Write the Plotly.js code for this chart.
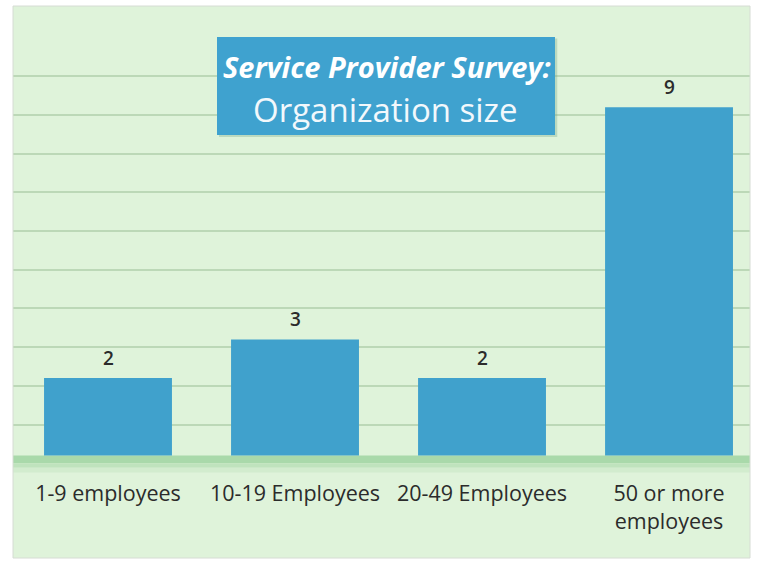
<!DOCTYPE html>
<html>
<head>
<meta charset="utf-8">
<script src="https://cdn.plot.ly/plotly-3.0.1.min.js"></script>
<style>html,body{margin:0;padding:0;background:#fff;}#chart{width:757px;height:563px;}</style>
</head>
<body>
<div id="chart"></div>
<script>
// Data
var categories = ["1-9 employees", "10-19 Employees", "20-49 Employees", "50 or more<br>employees"];
var counts = [2, 3, 2, 9];
var titleLine1 = "Service Provider Survey:";
var titleLine2 = "Organization size";

var FONT = "Open Sans, Lato, sans-serif";
var barColor = "#40a1cc";

// grid line values (offset like the reference)
var gridVals = [];
for (var g = 0; g < 10; g++) gridVals.push(0.8 + g);

var annotations = [];
for (var i = 0; i < categories.length; i++) {
  annotations.push({
    x: categories[i], y: counts[i], xref: "x", yref: "y",
    text: String(counts[i]), showarrow: false,
    yanchor: "bottom", yshift: 5,
    font: {family: FONT, size: 19, color: "#2b2b2b", weight: 600}
  });
}
annotations.push({
  xref: "paper", yref: "paper", x: 0.507, y: 0.8895,
  text: "<b><i>" + titleLine1 + "</i></b>", showarrow: false,
  xanchor: "center", yanchor: "middle",
  font: {family: FONT, size: 29, color: "#ffffff"}
});
annotations.push({
  xref: "paper", yref: "paper", x: 0.505, y: 0.8116,
  text: titleLine2, showarrow: false,
  xanchor: "center", yanchor: "middle",
  font: {family: FONT, size: 33, color: "#f2f8fc"}
});

var shapes = [
  {type: "rect", layer: "between", xref: "paper", yref: "y", x0: 0, x1: 1, y0: 0, y1: -0.2, line: {width: 0}, fillcolor: "#a9d9aa"},
  {type: "rect", layer: "between", xref: "paper", yref: "y", x0: 0, x1: 1, y0: -0.2, y1: -0.32, line: {width: 0}, fillcolor: "#bfe3bd"},
  {type: "rect", layer: "between", xref: "paper", yref: "y", x0: 0, x1: 1, y0: -0.32, y1: -0.44, line: {width: 0}, fillcolor: "#d2ecce"},
  // title box shadow and box
  {type: "rect", layer: "above", xref: "paper", yref: "paper", x0: 0.2795, x1: 0.7385, y0: 0.7625, y1: 0.9410, line: {width: 0}, fillcolor: "rgba(120,170,140,0.35)"},
  {type: "rect", layer: "above", xref: "paper", yref: "paper", x0: 0.2768, x1: 0.7354, y0: 0.7663, y1: 0.9438, line: {width: 0}, fillcolor: "#3fa2cf"},
  // outer border
  {type: "rect", layer: "above", xref: "paper", yref: "paper", x0: 0, x1: 1, y0: 0, y1: 1, line: {width: 1, color: "#d6dcd4"}, fillcolor: "rgba(0,0,0,0)"}
];

var trace = {
  type: "bar", x: categories, y: counts,
  marker: {color: barColor, line: {width: 0}},
  hoverinfo: "skip"
};

var layout = {
  width: 757, height: 563,
  margin: {l: 13, r: 7, t: 6, b: 5, pad: 0},
  paper_bgcolor: "#ffffff",
  plot_bgcolor: "#dff3da",
  showlegend: false,
  bargap: 0.316,
  xaxis: {
    type: "category", range: [-0.508, 3.433],
    anchor: "free", position: 0.1857,
    showgrid: false, zeroline: false, showline: false, ticks: "",
    ticklabelstandoff: 23,
    tickfont: {family: FONT, size: 21.5, color: "#2b2b2b"}
  },
  yaxis: {
    range: [-2.649, 11.615],
    tickmode: "array", tickvals: gridVals,
    showticklabels: false, ticks: "",
    showgrid: true, gridcolor: "#bcd8b7", gridwidth: 2,
    zeroline: false, showline: false
  },
  shapes: shapes,
  annotations: annotations
};

Plotly.newPlot("chart", [trace], layout, {displayModeBar: false, staticPlot: true});
</script>
</body>
</html>
